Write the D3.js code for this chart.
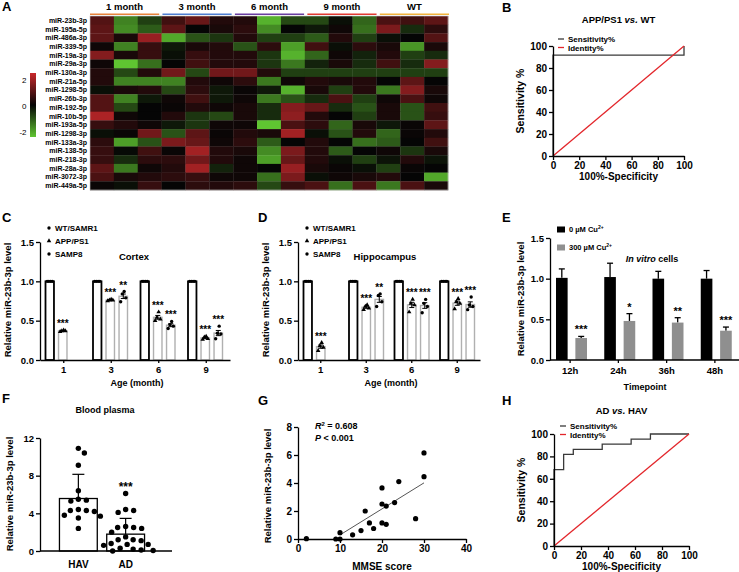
<!DOCTYPE html>
<html>
<head>
<meta charset="utf-8">
<script src="https://cdn.jsdelivr.net/npm/d3@7"></script>
<style>
body { margin: 0; background: #fff; }
svg { display: block; }
</style>
</head>
<body>
<svg id="fig" width="739" height="572"></svg>
<script>
// ---- A: heatmap data ----
var mirNames = ["miR-23b-3p", "miR-195a-5p", "miR-486a-3p", "miR-339-5p", "miR-19a-3p",
  "miR-29a-3p", "miR-130a-3p", "miR-21a-5p", "miR-1298-5p", "miR-26b-3p", "miR-192-5p",
  "miR-10b-5p", "miR-193a-5p", "miR-1298-3p", "miR-133a-3p", "miR-138-5p", "miR-218-3p",
  "miR-28a-3p", "miR-3072-3p", "miR-449a-5p"];
var heatGroups = ["1 month", "3 month", "6 month", "9 month", "WT"];
var heatGroupColors = ["#e8843c", "#4f7fd2", "#6a3ea1", "#e23a32", "#f2b33d"];
var heatValues = [
  [0.8, -1.3, -0.6, 0.6, 1.0, 0.3, 0.3, -1.8, -0.7, -0.7, -0.1, -1.0, 0.7, 0.6, 0.9],
  [0.9, -1.4, -0.9, 0.9, 0.0, 0.2, 0.4, -1.4, 0.0, -0.2, 0.1, -1.1, 1.2, -0.4, 0.4],
  [0.9, 0.2, 1.5, -1.7, -0.8, -0.5, 0.3, -0.6, -0.6, -0.9, 0.3, -0.6, -0.1, 0.0, 0.8],
  [0.1, -1.3, 0.5, -0.2, 0.2, 0.3, -0.8, 0.4, -1.6, 0.6, -0.1, 0.4, 0.2, -1.5, 0.2],
  [1.3, 0.2, 0.5, -0.1, 0.5, 0.3, 0.3, -0.5, -1.8, -1.0, 0.1, -0.3, 0.3, -0.6, -0.4],
  [0.1, -2.0, -1.1, 0.0, 0.6, 0.3, 0.3, -0.5, -1.2, -0.3, 0.2, -0.4, 0.6, -0.4, 1.3],
  [0.3, -0.7, 0.3, 1.1, -0.7, 1.1, 1.1, 0.3, -0.6, -0.6, -0.6, -0.6, -0.6, -0.6, -0.6],
  [0.3, -1.3, -1.3, -1.3, 0.3, 0.1, 0.4, -1.2, 0.1, 0.3, 0.2, 0.3, 0.0, 0.9, 0.0],
  [-0.1, 0.2, 0.3, -0.7, 0.4, -0.2, 0.05, -0.2, -1.8, 0.2, -0.6, 0.3, -1.2, 1.3, 0.2],
  [0.8, -1.3, -0.2, 0.1, 0.6, -0.2, 0.1, -1.2, -0.8, -0.4, 0.7, -0.6, 0.1, 0.7, 0.1],
  [0.8, -0.7, 0.0, 0.05, 0.3, 0.1, 0.2, -0.4, 1.3, 1.0, -0.4, -0.8, 0.2, -0.8, 0.6],
  [1.7, 0.1, 0.0, 0.3, -0.5, -0.7, 0.2, -0.4, 1.4, 0.3, 0.0, -0.6, 0.2, -0.8, 0.5],
  [0.5, 0.3, 0.1, -0.2, -0.5, 0.1, 0.1, -2.0, 0.7, 0.4, -1.0, 0.2, -0.2, 0.05, 0.9],
  [-0.1, 0.05, 1.1, -0.8, 0.9, 0.05, 0.3, 0.2, 1.6, -0.1, -0.8, 0.3, -1.0, 0.05, 0.3],
  [0.4, -1.6, -0.8, 1.2, 1.0, 0.1, 0.4, -0.9, 0.0, 0.3, 0.0, -1.1, -0.9, 0.0, 0.6],
  [0.5, -0.05, 0.6, 0.05, 1.6, 0.3, 0.2, -1.4, 1.2, 0.3, -0.9, 0.0, 0.1, -0.5, 0.2],
  [0.5, -0.4, 0.4, 0.4, 1.1, 0.3, 0.1, -1.6, 1.0, 0.3, -0.1, -0.6, -0.15, 0.3, -0.15],
  [0.9, -1.2, 0.1, 0.3, 1.6, -0.3, 0.1, 0.0, 1.5, 0.2, 0.05, -0.1, -0.6, 0.05, 0.0],
  [0.7, 0.2, 0.3, 0.4, 0.5, 0.1, 0.1, -1.1, 1.2, -0.1, 0.1, 0.2, 0.3, 0.0, -1.7],
  [0.05, -0.1, 0.5, 0.0, 0.4, 0.3, 0.4, -0.7, 0.5, 0.7, -1.1, 0.7, -1.2, 0.7, 0.2]
];
var heatLegendTicks = [2, 0, -2];

// ---- B / H: ROC curves ----
var rocB_fpr = [0, 0, 100, 100];
var rocB_tpr = [0, 91.67, 91.67, 100];
var rocH_fpr = [0, 0, 7.14, 7.14, 14.29, 14.29, 35.71, 35.71, 57.14, 57.14, 71.43, 71.43, 100];
var rocH_tpr = [0, 68.18, 68.18, 81.82, 81.82, 86.36, 86.36, 90.91, 90.91, 95.45, 95.45, 100, 100];
var rocTicks = [0, 20, 40, 60, 80, 100];

// ---- C / D: mouse brain levels ----
var ageMonths = ["1", "3", "6", "9"];
var mouseGroups = ["WT/SAMR1", "APP/PS1", "SAMP8"];
var wtPoints = [[1, 1, 1, 1], [1, 1, 1, 1], [1, 1, 1, 1], [1, 1, 1, 1]];
var cortexApp = [[0.36, 0.37, 0.37, 0.38], [0.75, 0.76, 0.76, 0.77], [0.50, 0.52, 0.54, 0.61], [0.26, 0.27, 0.29, 0.30]];
var cortexSamp = [null, [0.74, 0.79, 0.84, 0.87], [0.40, 0.43, 0.45, 0.49], [0.27, 0.33, 0.34, 0.43]];
var cortexAppStars = ["***", "***", "***", "***"];
var cortexSampStars = [null, "**", "***", "***"];
var hippoApp = [[0.12, 0.16, 0.18, 0.22], [0.64, 0.66, 0.68, 0.70], [0.61, 0.70, 0.72, 0.77], [0.65, 0.72, 0.74, 0.78]];
var hippoSamp = [null, [0.68, 0.74, 0.82, 0.84], [0.60, 0.68, 0.72, 0.77], [0.64, 0.68, 0.70, 0.80]];
var hippoAppStars = ["***", "***", "***", "***"];
var hippoSampStars = [null, "**", "***", "***"];
var levelTicks = [0, 0.5, 1.0, 1.5];

// ---- E: in vitro cells ----
var timepoints = ["12h", "24h", "36h", "48h"];
var ctrlMean = [1.01, 1.02, 1.0, 1.0];
var ctrlErr = [0.11, 0.17, 0.09, 0.10];
var cuMean = [0.27, 0.48, 0.46, 0.36];
var cuErr = [0.02, 0.09, 0.06, 0.045];
var cuStars = ["***", "*", "**", "***"];

// ---- F: blood plasma ----
var plasmaGroups = ["HAV", "AD"];
var havLevels = [10.9, 10.4, 9.1, 6.4, 5.5, 5.4, 5.3, 4.4, 4.3, 4.3, 4.2, 3.8, 3.7, 3.5, 2.4];
var adLevels = [6.1, 4.4, 4.3, 4.1, 2.6, 2.5, 2.5, 2.4, 2.0, 1.5, 1.2, 1.2, 1.1, 0.8, 0.7, 0.7, 0.6, 0.3, 0.2, 0.1, 0.05, 0.0];
var plasmaTicks = [0, 4, 8, 12];

// ---- G: correlation ----
var mmseScores = [2, 9, 10, 10, 13, 15, 16, 17, 18, 20, 20, 20, 21, 21, 23, 24, 28, 30, 30];
var mmseLevels = [0.02, 0, 0, 0.45, 0.3, 0.6, 2.0, 1.15, 0.75, 3.65, 2.5, 1.15, 1.05, 2.35, 2.6, 4.1, 1.45, 6.15, 4.45];
var mmseTicks = [0, 10, 20, 30, 40];
var corrTicks = [0, 2, 4, 6, 8];

var FONT = '"Liberation Sans", Arial, Helvetica, sans-serif';
var svg = d3.select("#fig")
  .attr("font-family", FONT)
  .attr("font-weight", "bold")
  .attr("fill", "#000");

function txt(x, y, s, size, anchor) {
  return svg.append("text")
    .attr("x", x).attr("y", y)
    .attr("font-size", size)
    .attr("text-anchor", anchor || "start")
    .attr("fill", "#000")
    .text(s);
}

function vLabel(x, y, s, size) {
  return svg.append("text")
    .attr("transform", "translate(" + x + "," + y + ") rotate(-90)")
    .attr("text-anchor", "middle")
    .attr("dy", "0.35em")
    .attr("font-size", size)
    .text(s);
}

function fixAxis(g, size) {
  g.attr("font-family", FONT).attr("font-size", size);
  g.select(".domain").attr("stroke", "#000").attr("stroke-width", 1.3);
  g.selectAll(".tick line").attr("stroke", "#000").attr("stroke-width", 1.3);
  g.selectAll(".tick text").attr("fill", "#000").attr("font-weight", "bold");
}

// simple swarm placement so dots do not overlap
function swarm(vals, yScale, cx, d) {
  var placed = [];
  var order = vals.map(function(v) { return {v: v, y: yScale(v)}; })
    .sort(function(a, b) { return a.y - b.y; });
  order.forEach(function(p) {
    for (var k = 0; k < 200; k++) {
      var off = (k % 2 ? 1 : -1) * Math.ceil(k / 2) * 0.5;
      var x = cx + off;
      var hit = placed.some(function(q) {
        return Math.hypot(q.x - x, q.y - p.y) < d;
      });
      if (!hit) { p.x = x; placed.push(p); break; }
    }
  });
  return placed;
}

// ================= A =================
txt(2, 11, "A", 13);

var colX = d3.scaleBand().domain(d3.range(heatValues[0].length)).range([90, 448]);
var rowY = d3.scaleBand().domain(mirNames).range([16, 190]);
var heatColor = d3.scaleLinear()
  .domain([-2, 0, 2])
  .range(["#5fc531", "#050505", "#c9282b"])
  .clamp(true);

var rows = svg.append("g").selectAll("g")
  .data(heatValues)
  .enter().append("g");

rows.selectAll("rect")
  .data(function(d, i) { return d.map(function(v, j) { return {v: v, c: j, r: mirNames[i]}; }); })
  .enter().append("rect")
  .attr("x", function(d) { return colX(d.c); })
  .attr("y", function(d) { return rowY(d.r); })
  .attr("width", colX.bandwidth() + 0.3)
  .attr("height", rowY.bandwidth() + 0.3)
  .attr("fill", function(d) { return heatColor(d.v); });

svg.append("rect")
  .attr("x", 90).attr("y", 16).attr("width", 358).attr("height", 174)
  .attr("fill", "none").attr("stroke", "#c8c8c8").attr("stroke-width", 0.6);

svg.append("g").selectAll("text")
  .data(mirNames)
  .enter().append("text")
  .attr("x", 87)
  .attr("y", function(d) { return rowY(d) + rowY.bandwidth() / 2; })
  .attr("dy", "0.35em")
  .attr("text-anchor", "end")
  .attr("font-size", 7)
  .text(function(d) { return d; });

var groupX = d3.scaleBand().domain(heatGroups).range([90, 449]).paddingInner(0.045);
svg.append("g").selectAll("line")
  .data(heatGroups)
  .enter().append("line")
  .attr("x1", function(d) { return groupX(d); })
  .attr("x2", function(d) { return groupX(d) + groupX.bandwidth(); })
  .attr("y1", 14.3).attr("y2", 14.3)
  .attr("stroke", function(d, i) { return heatGroupColors[i]; })
  .attr("stroke-width", 1.6);
svg.append("g").selectAll("text")
  .data(heatGroups)
  .enter().append("text")
  .attr("x", function(d) { return groupX(d) + groupX.bandwidth() / 2; })
  .attr("y", 10)
  .attr("text-anchor", "middle")
  .attr("font-size", 9.5)
  .text(function(d) { return d; });

// colour key
var grad = svg.append("defs").append("linearGradient")
  .attr("id", "heatKey").attr("x1", 0).attr("x2", 0).attr("y1", 0).attr("y2", 1);
grad.selectAll("stop")
  .data([2.4, 0, -2.4])
  .enter().append("stop")
  .attr("offset", function(d, i) { return i / 2; })
  .attr("stop-color", function(d) { return heatColor(d); });
svg.append("rect")
  .attr("x", 30).attr("y", 73).attr("width", 6).attr("height", 64)
  .attr("fill", "url(#heatKey)");
var keyY = d3.scaleLinear().domain([-2, 2]).range([132, 80]);
svg.append("g").selectAll("text")
  .data(heatLegendTicks)
  .enter().append("text")
  .attr("x", 26.5)
  .attr("y", function(d) { return keyY(d); })
  .attr("dy", "0.35em")
  .attr("text-anchor", "end")
  .attr("font-size", 8)
  .attr("font-weight", "normal")
  .text(function(d) { return d; });

// ================= ROC panels (B, H) =================
function drawRoc(o) {
  var x = d3.scaleLinear().domain([0, 100]).range([o.x0, o.x1]);
  var y = d3.scaleLinear().domain([0, 100]).range([o.y0, o.y1]);
  var line = d3.line()
    .x(function(d) { return x(d[0]); })
    .y(function(d) { return y(d[1]); });

  svg.append("path")
    .datum(d3.zip(o.fpr, o.tpr))
    .attr("d", line)
    .attr("fill", "none")
    .attr("stroke", "#3a3a3a")
    .attr("stroke-width", 1.3);
  svg.append("path")
    .datum([[0, 0], [100, 100]])
    .attr("d", line)
    .attr("fill", "none")
    .attr("stroke", "#e3262b")
    .attr("stroke-width", 1.3);

  var gx = svg.append("g")
    .attr("transform", "translate(0," + o.y0 + ")")
    .call(d3.axisBottom(x).tickValues(rocTicks).tickSize(4).tickSizeOuter(0).tickPadding(2));
  fixAxis(gx, 10);
  var gy = svg.append("g")
    .attr("transform", "translate(" + o.x0 + ",0)")
    .call(d3.axisLeft(y).tickValues(rocTicks).tickSize(4).tickSizeOuter(0).tickPadding(2));
  fixAxis(gy, 10);

  // legend
  var leg = [["Sensitivity%", "#3a3a3a"], ["Identity%", "#e3262b"]];
  leg.forEach(function(l, i) {
    svg.append("line")
      .attr("x1", o.legX).attr("x2", o.legX + 6)
      .attr("y1", o.legY + i * 8.5).attr("y2", o.legY + i * 8.5)
      .attr("stroke", l[1]).attr("stroke-width", 1.3);
    txt(o.legX + 10, o.legY + i * 8.5 + 3, l[0], 8);
  });

  var t = svg.append("text")
    .attr("x", (o.x0 + o.x1) / 2).attr("y", o.titleY)
    .attr("text-anchor", "middle").attr("font-size", 9.5);
  t.append("tspan").text(o.title[0] + " ");
  t.append("tspan").attr("font-style", "italic").text("vs.");
  t.append("tspan").text(" " + o.title[1]);

  txt((o.x0 + o.x1) / 2, o.y0 + 24, "100%-Specificity", 10, "middle");
  vLabel(o.x0 - 33, (o.y0 + o.y1) / 2, "Sensitivity %", 10.5);
}

txt(502, 12, "B", 13);
drawRoc({x0: 553, x1: 684, y0: 156, y1: 46, fpr: rocB_fpr, tpr: rocB_tpr,
  legX: 558, legY: 39, title: ["APP/PS1", "WT"], titleY: 23});

txt(502, 405, "H", 13);
drawRoc({x0: 554, x1: 689, y0: 546, y1: 434, fpr: rocH_fpr, tpr: rocH_tpr,
  legX: 560, legY: 426, title: ["AD", "HAV"], titleY: 414});

// ================= C / D =================
function drawAgePanel(o) {
  var x0 = d3.scaleBand().domain(ageMonths).range([o.left, o.right]);
  var x1 = d3.scaleBand().domain(mouseGroups).range([5.5, 40]).paddingInner(0.35);
  var y = d3.scaleLinear().domain([0, 1.5]).range([360, 242]);
  var groupPts = [wtPoints, o.app, o.samp];
  var groupStars = [null, o.appStars, o.sampStars];
  var recs = [];
  ageMonths.forEach(function(m, i) {
    mouseGroups.forEach(function(g, j) {
      var pts = groupPts[j][i];
      if (!pts) return;
      var mean = d3.mean(pts);
      var sem = d3.deviation(pts) / Math.sqrt(pts.length);
      recs.push({m: m, g: g, j: j, pts: pts, mean: mean, sem: sem,
        star: groupStars[j] ? groupStars[j][i] : null,
        cx: x0(m) + x1(g) + x1.bandwidth() / 2});
    });
  });

  var bw = x1.bandwidth();
  svg.append("g").selectAll("rect")
    .data(recs)
    .enter().append("rect")
    .attr("x", function(d) { return d.cx - bw / 2; })
    .attr("y", function(d) { return y(d.mean); })
    .attr("width", bw)
    .attr("height", function(d) { return y(0) - y(d.mean); })
    .attr("fill", "#fff")
    .attr("stroke", function(d) { return d.j === 0 ? "#000" : "#b0b0b0"; })
    .attr("stroke-width", function(d) { return d.j === 0 ? 1.8 : 1.4; });

  var errs = svg.append("g").attr("stroke", "#000").attr("stroke-width", 1);
  recs.filter(function(d) { return d.sem > 0; }).forEach(function(d) {
    errs.append("line").attr("x1", d.cx).attr("x2", d.cx)
      .attr("y1", y(d.mean - d.sem)).attr("y2", y(d.mean + d.sem));
    [d.mean - d.sem, d.mean + d.sem].forEach(function(v) {
      errs.append("line").attr("x1", d.cx - 2.5).attr("x2", d.cx + 2.5)
        .attr("y1", y(v)).attr("y2", y(v));
    });
  });

  var sym = d3.symbol().size(9);
  recs.forEach(function(d) {
    var n = d.pts.length;
    svg.append("g").selectAll("path")
      .data(d.pts.slice().sort(d3.ascending))
      .enter().append("path")
      .attr("transform", function(v, k) {
        var off = [-2.6, 2.6, -0.9, 0.9][k % 4] * (n > 1 ? 1 : 0);
        return "translate(" + (d.cx + off) + "," + y(v) + ")";
      })
      .attr("d", sym.type(d.j === 1 ? d3.symbolTriangle : d3.symbolCircle)())
      .attr("fill", "#000");
  });

  svg.append("g").selectAll("text")
    .data(recs.filter(function(d) { return d.star; }))
    .enter().append("text")
    .attr("x", function(d) { return d.cx; })
    .attr("y", function(d) { return y(Math.max(d3.max(d.pts), d.mean + d.sem)) - 3; })
    .attr("text-anchor", "middle")
    .attr("font-size", 10)
    .text(function(d) { return d.star; });

  var gx = svg.append("g")
    .attr("transform", "translate(0,360)")
    .call(d3.axisBottom(x0).tickSize(3).tickSizeOuter(0).tickPadding(3));
  fixAxis(gx, 9.5);
  var gy = svg.append("g")
    .attr("transform", "translate(" + o.left + ",0)")
    .call(d3.axisLeft(y).tickValues(levelTicks).tickFormat(d3.format(".1f")).tickSize(4).tickSizeOuter(0).tickPadding(2));
  fixAxis(gy, 9.5);

  txt((o.left + o.right) / 2 + 2, 386, "Age (month)", 9, "middle");
  vLabel(o.left - 32, 300, "Relative miR-23b-3p level", 9.5);
  txt(o.titleX, 260, o.title, 9.5, "middle");

  mouseGroups.forEach(function(g, j) {
    var yy = 228 + j * 13;
    svg.append("path")
      .attr("transform", "translate(" + o.legX + "," + yy + ")")
      .attr("d", sym.type(j === 1 ? d3.symbolTriangle : d3.symbolCircle)())
      .attr("fill", "#000");
    txt(o.legX + 6, yy + 3, g, 8);
  });
}

txt(2, 222, "C", 13);
drawAgePanel({left: 40, right: 230, app: cortexApp, samp: cortexSamp,
  appStars: cortexAppStars, sampStars: cortexSampStars,
  title: "Cortex", titleX: 134, legX: 49});

txt(258, 222, "D", 13);
drawAgePanel({left: 298, right: 480, app: hippoApp, samp: hippoSamp,
  appStars: hippoAppStars, sampStars: hippoSampStars,
  title: "Hippocampus", titleX: 385, legX: 307});

// ================= E =================
txt(502, 222, "E", 13);
(function() {
  var x0 = d3.scaleBand().domain(timepoints).range([546, 739]);
  var doses = ["0", "300"];
  var x1 = d3.scaleBand().domain(doses).range([10, 41]).paddingInner(0.4);
  var y = d3.scaleLinear().domain([0, 1.5]).range([360, 238]);
  var recs = [];
  timepoints.forEach(function(t, i) {
    recs.push({t: t, dose: "0", mean: ctrlMean[i], err: ctrlErr[i], fill: "#000", star: null});
    recs.push({t: t, dose: "300", mean: cuMean[i], err: cuErr[i], fill: "#8f8f8f", star: cuStars[i]});
  });
  recs.forEach(function(d) { d.cx = x0(d.t) + x1(d.dose) + x1.bandwidth() / 2; });

  var g = svg.append("g");
  recs.forEach(function(d) {
    g.append("line").attr("x1", d.cx).attr("x2", d.cx)
      .attr("y1", y(d.mean)).attr("y2", y(d.mean + d.err))
      .attr("stroke", "#000").attr("stroke-width", 1.3);
    g.append("line").attr("x1", d.cx - 3).attr("x2", d.cx + 3)
      .attr("y1", y(d.mean + d.err)).attr("y2", y(d.mean + d.err))
      .attr("stroke", "#000").attr("stroke-width", 1.3);
  });
  g.selectAll("rect")
    .data(recs)
    .enter().append("rect")
    .attr("x", function(d) { return d.cx - x1.bandwidth() / 2; })
    .attr("y", function(d) { return y(d.mean); })
    .attr("width", x1.bandwidth())
    .attr("height", function(d) { return y(0) - y(d.mean); })
    .attr("fill", function(d) { return d.fill; });
  g.selectAll("text.star")
    .data(recs.filter(function(d) { return d.star; }))
    .enter().append("text")
    .attr("x", function(d) { return d.cx; })
    .attr("y", function(d) { return y(d.mean + d.err) - 3; })
    .attr("text-anchor", "middle")
    .attr("font-size", 11)
    .text(function(d) { return d.star; });

  var gx = svg.append("g")
    .attr("transform", "translate(0,360)")
    .call(d3.axisBottom(x0).tickSize(3).tickSizeOuter(0).tickPadding(4));
  fixAxis(gx, 9.5);
  gx.select(".domain").attr("d", "M550,0H739");
  var gy = svg.append("g")
    .attr("transform", "translate(550,0)")
    .call(d3.axisLeft(y).tickValues(levelTicks).tickFormat(d3.format(".1f")).tickSize(4).tickSizeOuter(0).tickPadding(2));
  fixAxis(gy, 9.5);

  txt(645, 390, "Timepoint", 9, "middle");
  vLabel(521, 299, "Relative miR-23b-3p level", 9.5);

  var lt = svg.append("text").attr("x", 652).attr("y", 262).attr("text-anchor", "middle").attr("font-size", 9);
  lt.append("tspan").attr("font-style", "italic").text("In vitro");
  lt.append("tspan").text(" cells");

  [["0", "#000"], ["300", "#8f8f8f"]].forEach(function(l, i) {
    var yy = 229.5 + i * 18;
    svg.append("rect").attr("x", 557).attr("y", yy - 3).attr("width", 8).attr("height", 6).attr("fill", l[1]);
    var t = svg.append("text").attr("x", 569).attr("y", yy + 2.6).attr("font-size", 7.5).attr("fill", "#000");
    t.append("tspan").text(l[0] + " \u00b5M Cu");
    t.append("tspan").attr("font-size", 5).attr("dy", -3).text("2+");
  });
})();

// ================= F =================
txt(2, 403, "F", 13);
(function() {
  var x = d3.scaleBand().domain(plasmaGroups).range([50, 154]).paddingInner(0.2).paddingOuter(0.2);
  var y = d3.scaleLinear().domain([0, 12]).range([551, 438]);
  var sets = [havLevels, adLevels];
  var recs = plasmaGroups.map(function(g, i) {
    return {g: g, vals: sets[i], mean: d3.mean(sets[i]), sd: d3.deviation(sets[i]),
      cx: x(g) + x.bandwidth() / 2};
  });

  svg.append("g").selectAll("rect")
    .data(recs)
    .enter().append("rect")
    .attr("x", function(d) { return x(d.g); })
    .attr("y", function(d) { return y(d.mean); })
    .attr("width", x.bandwidth())
    .attr("height", function(d) { return y(0) - y(d.mean); })
    .attr("fill", "#fff").attr("stroke", "#000").attr("stroke-width", 1.3);

  recs.forEach(function(d) {
    svg.append("line").attr("x1", d.cx).attr("x2", d.cx)
      .attr("y1", y(d.mean)).attr("y2", y(d.mean + d.sd))
      .attr("stroke", "#000").attr("stroke-width", 1.2);
    svg.append("line").attr("x1", d.cx - 6).attr("x2", d.cx + 6)
      .attr("y1", y(d.mean + d.sd)).attr("y2", y(d.mean + d.sd))
      .attr("stroke", "#000").attr("stroke-width", 1.2);
    svg.append("g").selectAll("circle")
      .data(swarm(d.vals, y, d.cx, 7.6))
      .enter().append("circle")
      .attr("cx", function(p) { return p.x; })
      .attr("cy", function(p) { return p.y; })
      .attr("r", 2.7)
      .attr("fill", "#000");
  });

  txt(recs[1].cx, y(d3.max(adLevels)) - 3, "***", 12, "middle");

  var gx = svg.append("g")
    .attr("transform", "translate(0,551)")
    .call(d3.axisBottom(x).tickSize(0).tickPadding(10));
  fixAxis(gx, 10);
  gx.select(".domain").attr("d", "M40,0H172");
  var gy = svg.append("g")
    .attr("transform", "translate(40,0)")
    .call(d3.axisLeft(y).tickValues(plasmaTicks).tickSize(4).tickSizeOuter(0).tickPadding(2));
  fixAxis(gy, 9.5);

  txt(105, 413, "Blood plasma", 9, "middle");
  vLabel(10, 494, "Relative miR-23b-3p level", 9.5);
})();

// ================= G =================
txt(258, 405, "G", 13);
(function() {
  var x = d3.scaleLinear().domain([0, 40]).range([298, 466]);
  var y = d3.scaleLinear().domain([0, 8]).range([539, 427]);
  var pts = d3.zip(mmseScores, mmseLevels);

  // least squares fit
  var mx = d3.mean(mmseScores), my = d3.mean(mmseLevels);
  var sxy = d3.sum(pts, function(p) { return (p[0] - mx) * (p[1] - my); });
  var sxx = d3.sum(mmseScores, function(v) { return (v - mx) * (v - mx); });
  var slope = sxy / sxx, icpt = my - slope * mx;
  var fitX = [10, d3.max(mmseScores)];
  svg.append("line")
    .attr("x1", x(fitX[0])).attr("y1", y(icpt + slope * fitX[0]))
    .attr("x2", x(fitX[1])).attr("y2", y(icpt + slope * fitX[1]))
    .attr("stroke", "#555").attr("stroke-width", 1);

  var gx = svg.append("g")
    .attr("transform", "translate(0,539)")
    .call(d3.axisBottom(x).tickValues(mmseTicks).tickSize(4).tickSizeOuter(0).tickPadding(2));
  fixAxis(gx, 10);
  var gy = svg.append("g")
    .attr("transform", "translate(298,0)")
    .call(d3.axisLeft(y).tickValues(corrTicks).tickSize(4).tickSizeOuter(0).tickPadding(2));
  fixAxis(gy, 10);

  svg.append("g").selectAll("circle")
    .data(pts)
    .enter().append("circle")
    .attr("cx", function(d) { return x(d[0]); })
    .attr("cy", function(d) { return y(d[1]); })
    .attr("r", 2.6)
    .attr("fill", "#000");

  var r2 = svg.append("text").attr("x", 315).attr("y", 429).attr("font-size", 9);
  r2.append("tspan").attr("font-style", "italic").text("R");
  r2.append("tspan").attr("font-size", 6).attr("dy", -3).text("2");
  r2.append("tspan").attr("dy", 3).text(" = 0.608");
  var pv = svg.append("text").attr("x", 315).attr("y", 441).attr("font-size", 9);
  pv.append("tspan").attr("font-style", "italic").text("P");
  pv.append("tspan").text(" < 0.001");

  txt(382, 570, "MMSE score", 10, "middle");
  vLabel(268, 486, "Relative miR-23b-3p level", 9.5);
})();
</script>
</body>
</html>
